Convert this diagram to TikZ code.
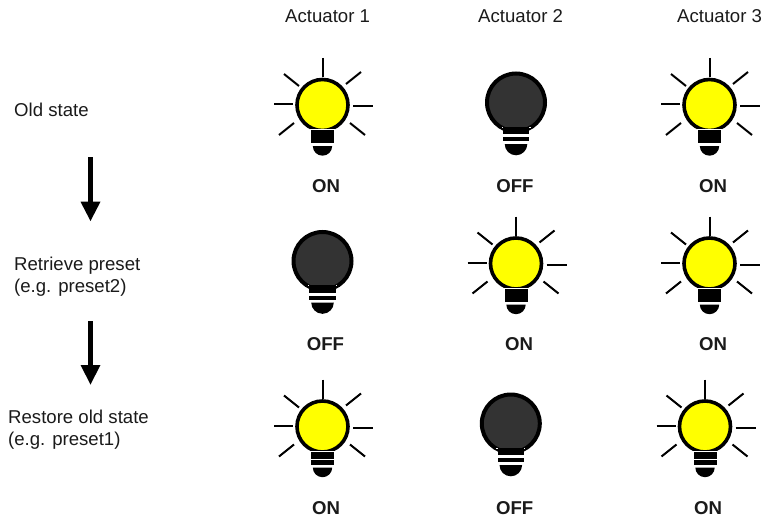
\documentclass[tikz,border=0pt]{standalone}
\usepackage{fontspec}
\setmainfont{Liberation Sans}
\definecolor{offfill}{HTML}{333333}
\definecolor{txt}{HTML}{1A1A1A}
\definecolor{lampon}{HTML}{FFFF00}
\tikzset{
  x=1pt,y=-1pt,
  lbl/.style={inner sep=0pt,font=\fontsize{18.6}{22}\selectfont,text=txt},
  head/.style={lbl,anchor=base west},
  leftlbl/.style={lbl,anchor=base west,align=left},
  state/.style={lbl,anchor=base,font=\fontsize{18.6}{22}\selectfont\bfseries},
  ray/.style={line width=2pt,black},
  flow/.style={line width=5pt,black},
  pics/onbulb/.style={code={
    \foreach \a/\b/\c/\d in {0/-47/0/-28,-48.5/-1/-29.5/-1,30.5/1/50.5/1,-38.5/-31/-23.5/-19,38.5/-33/23.5/-21,-43.5/30/-28.5/18,27.5/18/42.5/30}
      \draw[ray] (\a,\b) -- (\c,\d);
    \draw[fill=lampon,draw=black,line width=3.6pt] (0,0) circle[radius=25.5];
    \fill[white] (-12.5,24) rectangle (12.5,25);
    \fill[black] (-11.5,25) rectangle (11.5,38);
    \fill[black] (-9.7,41) -- (9.7,41) arc[start angle=0,end angle=180,radius=9.7] -- cycle;
  }},
  pics/onbase/.style={code={\fill[white] (-12.5,32) rectangle (12.5,33.5);}},
  pics/offbulb/.style={code={
    \draw[fill=offfill,draw=black,line width=4pt] (0,0) circle[radius=29];
    \fill[white] (-14.5,24) rectangle (14.5,24.5);
    \fill[black] (-13.3,24.3) rectangle (13.3,31.7);
    \fill[black] (-13.3,34.5) rectangle (13.3,38.7);
    \fill[black] (-11.3,41.5) -- (11.3,41.5) arc[start angle=0,end angle=180,radius=11.3] -- cycle;
  }},
}
\begin{document}
\begin{tikzpicture}
\useasboundingbox (0,0) rectangle (774,519);
\node[head] (h1) at (285,23) {Actuator 1};
\node[head] (h2) at (478,23) {Actuator 2};
\node[head] (h3) at (677,23) {Actuator 3};
\node[leftlbl] (t1) at (14,117) {Old state};
\node[leftlbl] (t2a) at (14,270.7) {Retrieve preset};
\node[leftlbl] (t2b) at (14,292) {(e.g. preset2)};
\node[leftlbl] (t3a) at (8,423) {Restore old state};
\node[leftlbl] (t3b) at (8,445) {(e.g. preset1)};
\coordinate (a1s) at (90.5,157); \coordinate (a1e) at (90.5,203);
\coordinate (a2s) at (90.5,321); \coordinate (a2e) at (90.5,366);
\draw[flow] (a1s) -- (a1e);
\fill (80.5,201.7) -- (100.5,201.7) -- (90.5,221) -- cycle;
\draw[flow] (a2s) -- (a2e);
\fill (80.5,365) -- (100.5,365) -- (90.5,384.5) -- cycle;
% row 1
\pic at (322.5,105) {onbulb};
\pic at (516,102.5) {offbulb};
\pic at (709.5,105) {onbulb};
% row 2
\pic at (322.5,261) {offbulb};
\pic at (516,263.5) {onbulb};
\pic at (709.5,263.5) {onbulb};
% row 3
\pic at (322.5,426.5) {onbulb};
\pic at (322.5,426.5) {onbase};
\pic at (510.8,423.5) {offbulb};
\pic at (705,426.5) {onbulb};
\pic at (705,426.5) {onbase};
\node[state] (s11) at (326,192.5) {ON};
\node[state] (s12) at (515,192.5) {OFF};
\node[state] (s13) at (713,192.5) {ON};
\node[state] (s21) at (325.5,350) {OFF};
\node[state] (s22) at (519,350) {ON};
\node[state] (s23) at (713,350) {ON};
\node[state] (s31) at (326,514) {ON};
\node[state] (s32) at (514.7,514) {OFF};
\node[state] (s33) at (708,514) {ON};
\end{tikzpicture}
\end{document}
